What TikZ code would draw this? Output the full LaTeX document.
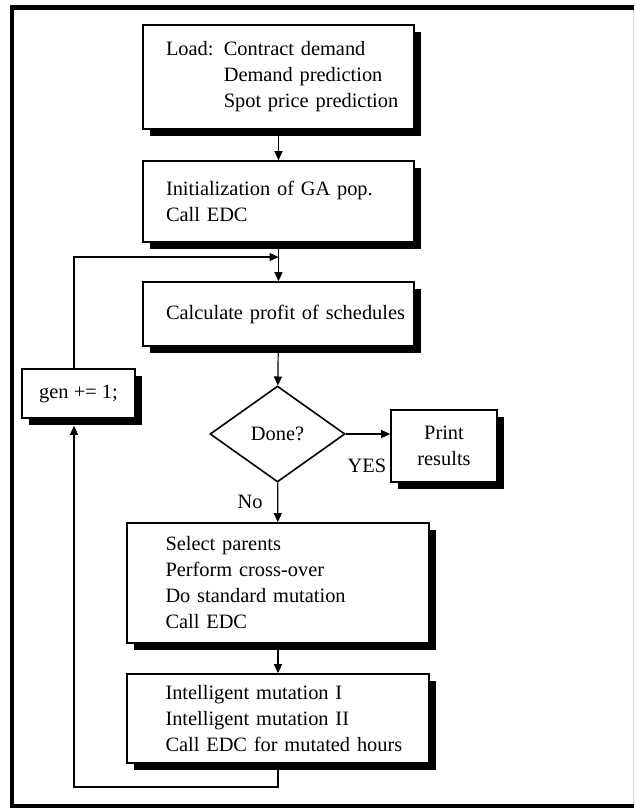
\documentclass[tikz,border=0pt]{standalone}
\usepackage{fontspec}
\setmainfont{Liberation Serif}
\usepackage{tikz}
\usetikzlibrary{shapes.geometric,arrows.meta,shadows}

\tikzset{
	stepbox/.style={draw, line width=0.8pt, fill=white, inner sep=0pt,
		drop shadow={shadow xshift=3.5pt, shadow yshift=-3.5pt, fill=black, opacity=1},
		font=\fontsize{10.2}{13}\selectfont},
	listbox/.style={stepbox, align=left, text width=#1, minimum width=#1,
		execute at begin node={\leftskip=\dimexpr(#1-112.5pt)/2\relax}},
	decision/.style={draw, diamond, line width=0.8pt, fill=white, inner sep=0pt,
		minimum width=67.5pt, minimum height=48pt, font=\fontsize{10.2}{13}\selectfont},
	arr/.style={line width=0.6pt, -{Triangle[length=4.5pt,width=4pt]}},
	tag/.style={font=\fontsize{10.2}{13}\selectfont, inner sep=0pt}
}

\begin{document}
\begin{tikzpicture}[x=0.5pt, y=-0.5pt]
	\useasboundingbox (0,0) rectangle (634,811);
	\draw[line width=2.2pt] (634,7.5) -- (12,7.5) -- (12,806) -- (634,806);
	\draw[gray!30, line width=0.5pt] (633,10) -- (633,804);

	\node[listbox=135.5pt, minimum height=52pt] (load) at (278.5,77)
		{Load: Contract demand\\\phantom{Load: }Demand prediction\\\phantom{Load: }Spot price prediction};
	\node[listbox=135.5pt, minimum height=40.5pt] (init) at (278.5,201.5)
		{Initialization of GA pop.\\Call EDC};
	\node[listbox=135.5pt, minimum height=32pt] (calc) at (278.5,314)
		{Calculate profit of schedules};
	\node[stepbox, minimum width=56.5pt, minimum height=24.5pt] (gen) at (78.5,393.5) {gen += 1;};
	\node[decision] (done) at (277.5,434) {Done?};
	\node[stepbox, align=center, minimum width=53pt, minimum height=36pt] (print) at (444,446)
		{Print\\results};
	\node[listbox=151pt, minimum height=60pt] (sel) at (278,583)
		{Select parents\\Perform cross-over\\Do standard mutation\\Call EDC};
	\node[listbox=151pt, minimum height=44.5pt] (mut) at (278,718.5)
		{Intelligent mutation I\\Intelligent mutation II\\Call EDC for mutated hours};

	\coordinate (join) at (278.5,257);
	\coordinate (back) at (74,787);

	\draw[arr] (load) -- (init);
	\draw[arr] (init) -- (calc);
	\draw[arr] (calc) -- (done);
	\draw[arr] (done.east) -- (print.west |- done.east);
	\draw[arr] (done) -- (sel);
	\draw[arr] (sel) -- (mut);
	\draw[arr] (back |- gen.north) |- (join);
	\draw[arr] (mut.south) |- (back) -- ([yshift=-3.5pt]back |- gen.south);

	\node[tag] (yes) at (367,466) {YES};
	\node[tag] (no) at (250,502) {No};
\end{tikzpicture}
\end{document}
